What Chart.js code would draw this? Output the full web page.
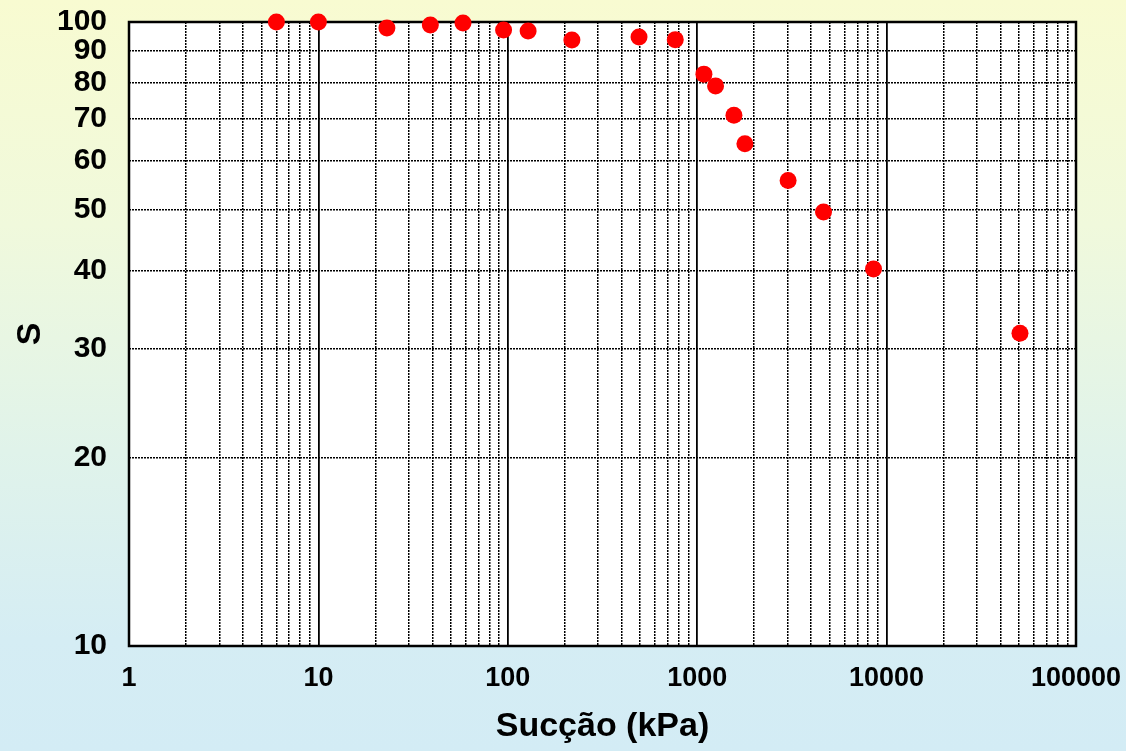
<!DOCTYPE html>
<html>
<head>
<meta charset="utf-8">
<title>Curva de retenção</title>
<script src="https://cdn.jsdelivr.net/npm/chart.js@4/dist/chart.umd.min.js"></script>
<style>
  html, body { margin: 0; padding: 0; }
  body {
    width: 1126px;
    height: 751px;
    overflow: hidden;
    background: linear-gradient(to bottom, #f8fbd1 0%, #f0f9dc 30%, #e0f3ea 60%, #d5edf4 85%, #d3ecf5 100%);
  }
  canvas { display: block; }
</style>
</head>
<body>
<canvas id="curva" width="1126" height="751"></canvas>
<script>
// sucção (kPa) x grau de saturação S (%)
const succao = [6, 10, 23, 39, 58, 95, 128, 218, 493, 766, 1085, 1250, 1563, 1786, 3020, 4645, 8530, 50600];
const saturacao = [100, 100, 97.8, 98.9, 99.6, 97.1, 96.7, 93.6, 94.6, 93.7, 82.5, 79.0, 70.9, 63.8, 55.7, 49.6, 40.2, 31.7];

const decadasX = [1, 10, 100, 1000, 10000, 100000];
const ticksY = [10, 20, 30, 40, 50, 60, 70, 80, 90, 100];

// grade secundária: 1..9 em cada década
const ticksX = [];
decadasX.forEach((d, i) => {
    if (i === decadasX.length - 1) { ticksX.push(d); return; }
    for (let k = 1; k < 10; k++) ticksX.push(d * k);
});

const isDecada = (v) => decadasX.includes(v);

const fundoArea = {
    id: "fundoArea",
    beforeDraw(chart) {
        const { ctx, chartArea: a } = chart;
        ctx.save();
        ctx.fillStyle = "#ffffff";
        ctx.fillRect(a.left, a.top, a.right - a.left, a.bottom - a.top);
        ctx.restore();
    },
    beforeDatasetsDraw(chart) {
        const { ctx, chartArea: a } = chart;
        ctx.save();
        ctx.strokeStyle = "#000";
        ctx.lineWidth = 2.5;
        ctx.strokeRect(a.left, a.top, a.right - a.left, a.bottom - a.top);
        ctx.restore();
    },
};

// tamanho fixo dos eixos, sem folga automática para os rótulos das pontas
function fixarEixo(prop, valor) {
    return (scale) => {
        scale[prop] = valor;
        scale.paddingTop = 0;
        scale.paddingBottom = 0;
        scale.paddingLeft = 0;
        scale.paddingRight = 0;
    };
}

const pontilhado = [2, 1];
const familia = "'Liberation Sans', Arial, sans-serif";
const fonteX = { family: familia, size: 27, weight: "bold" };
const fonteY = { family: familia, size: 30, weight: "bold" };
const fonteTitulo = { family: familia, size: 34, weight: "bold" };

new Chart(document.getElementById("curva"), {
    type: "scatter",
    data: {
        datasets: [{
            label: "S",
            data: succao.map((x, i) => ({ x: x, y: saturacao[i] })),
            backgroundColor: "#ff0000",
            borderWidth: 0,
            pointRadius: 8.5,
            pointHoverRadius: 8.5,
            clip: false,
        }],
    },
    options: {
        responsive: false,
        animation: false,
        layout: { padding: { top: 22, right: 50, left: 0, bottom: 0 } },
        plugins: {
            legend: { display: false },
            tooltip: { enabled: false },
        },
        scales: {
            x: {
                type: "logarithmic",
                min: 1,
                max: 100000,
                afterBuildTicks: (scale) => {
                    scale.ticks = ticksX.map((v) => ({ value: v }));
                },
                afterFit: fixarEixo("height", 105),
                ticks: {
                    autoSkip: false,
                    maxRotation: 0,
                    padding: 16,
                    color: "#000",
                    font: fonteX,
                    callback: (v) => (isDecada(v) ? String(v) : ""),
                },
                grid: {
                    drawTicks: false,
                    color: "#000",
                    lineWidth: (c) => (c.tick && isDecada(c.tick.value) ? 1.8 : 1.5),
                },
                border: {
                    display: false,
                    dash: (c) => (c.type === "tick" && !isDecada(c.tick.value) ? pontilhado : []),
                },
                title: {
                    display: true,
                    text: "Sucção (kPa)",
                    color: "#000",
                    font: fonteTitulo,
                    padding: { top: 4, bottom: 4 },
                },
            },
            y: {
                type: "logarithmic",
                min: 10,
                max: 100,
                afterBuildTicks: (scale) => {
                    scale.ticks = ticksY.map((v) => ({ value: v }));
                },
                afterFit: fixarEixo("width", 129),
                ticks: {
                    autoSkip: false,
                    padding: 22,
                    color: "#000",
                    font: fonteY,
                    callback: (v) => String(v),
                },
                grid: {
                    drawTicks: false,
                    color: "#000",
                    lineWidth: 1.5,
                },
                border: {
                    display: false,
                    dash: (c) => (c.type === "tick" ? pontilhado : []),
                },
                title: {
                    display: true,
                    text: "S",
                    color: "#000",
                    font: fonteTitulo,
                    padding: { top: 10, bottom: 10 },
                },
            },
        },
    },
    plugins: [fundoArea],
});
</script>
</body>
</html>
